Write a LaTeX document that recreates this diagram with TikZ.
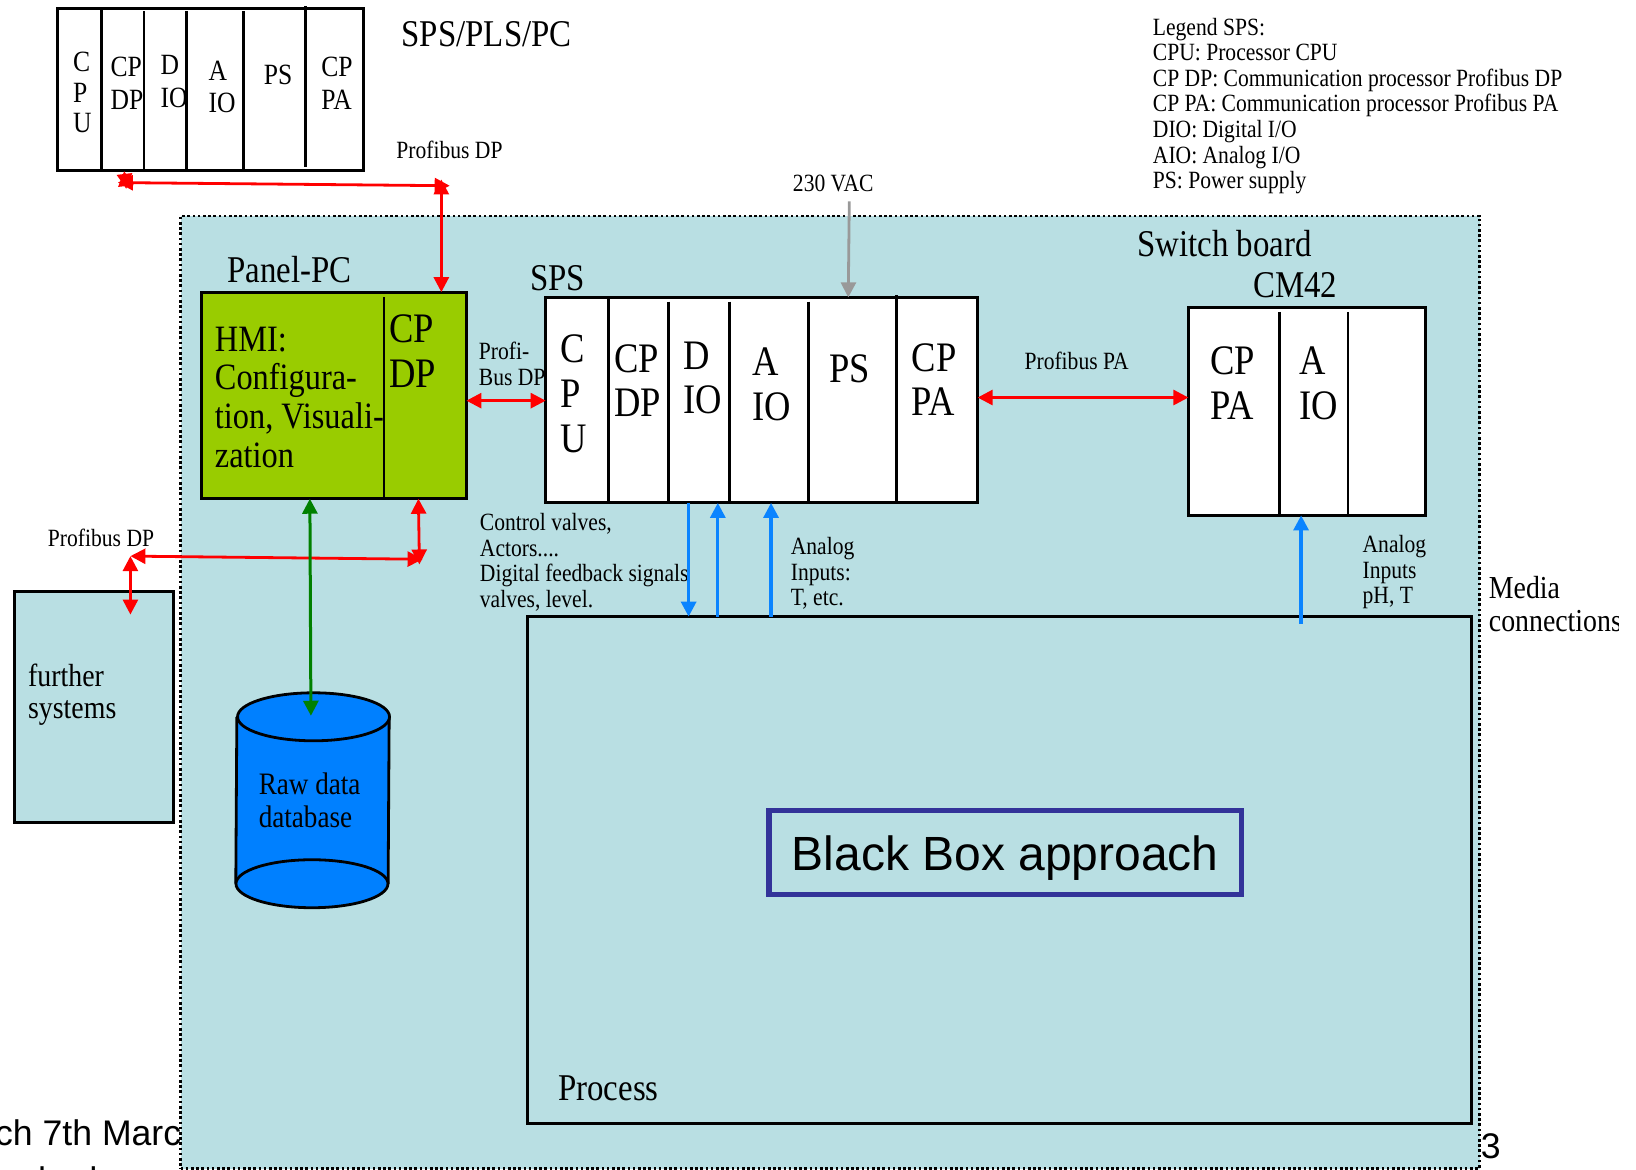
\documentclass[tikz,border=0pt]{standalone}
\usepackage{fontspec}
\setmainfont[FakeStretch=0.87]{Liberation Serif}
\newfontfamily\arialf{Liberation Sans}
\usetikzlibrary{arrows.meta,fit,shapes.geometric,calc}
\newcommand{\TL}[1]{\begin{tabular}[t]{@{}l@{}}#1\end{tabular}}
\tikzset{
  lab/.style n args={2}{anchor=base west,inner sep=0pt,outer sep=0pt,yshift=-0.9pt,font=\fontsize{#1}{#2}\selectfont},
  small/.style={lab={12.4pt}{12.8pt}},
  mid/.style={lab={18.9pt}{20pt}},
  big/.style={lab={21pt}{22.4pt}},
  rk/.style={lab={14.7pt}{16.2pt}},
  boxn/.style={draw=black,line width=1.5pt,inner sep=0pt,outer sep=0pt},
  divline/.style={draw=black,line width=1.4pt},
  redline/.style={draw=red,line width=1.4pt,{Triangle[length=7.5pt,width=7.5pt]}-{Triangle[length=7.5pt,width=7.5pt]}},
  blueline/.style={draw=bluearrow,line width=1.6pt,-{Triangle[length=7.5pt,width=7.5pt]}},
  greenline/.style={draw=darkgreen,line width=1.5pt,{Triangle[length=7.5pt,width=7.5pt]}-{Triangle[length=7.5pt,width=7.5pt]}},
  greyline/.style={draw=greyarrow,line width=1.4pt,-{Triangle[length=7.5pt,width=7.5pt]}},
}
\definecolor{board}{HTML}{B9DFE3}
\definecolor{hmigreen}{HTML}{99CC00}
\definecolor{dbblue}{HTML}{0080FF}
\definecolor{bluearrow}{HTML}{0A84FF}
\definecolor{darkgreen}{HTML}{008000}
\definecolor{greyarrow}{HTML}{999999}
\definecolor{bbblue}{HTML}{333399}
\begin{document}
\begin{tikzpicture}[x=0.5217pt,y=-0.5217pt]
\useasboundingbox (0,0) rectangle (1568,1121);
\clip (0,0) rectangle (1568,1121);
% footer text behind the board
\node[anchor=base west,inner sep=0pt,font=\arialf\fontsize{17.8pt}{20pt}\selectfont] (foot1) at (-5,1098) {ch 7th Marc};
\node[anchor=base west,inner sep=0pt,font=\arialf\fontsize{17.8pt}{20pt}\selectfont] (foot2) at (19,1143) {ched};
% switch board
\node[fit={(173,207)(1418,1120)},inner sep=0pt,outer sep=0pt,fill=board,draw=black,line width=1.3pt,dash pattern=on 1.3pt off 1.3pt] (board) {};
\node[anchor=base west,inner sep=0pt,font=\arialf\fontsize{17.8pt}{20pt}\selectfont] (pagenum) at (1419,1110) {3};
% top rack
\node[fit={(55,8)(348,163)},boxn,fill=white] (rack) {};
\draw[divline] (97,8) -- (97,163);
\draw[divline] (138,11) -- (138,163);
\draw[divline] (179,11) -- (179,163);
\draw[divline] (233,11) -- (233,163);
\draw[divline] (293,6) -- (293,160);
\node[rk] (r1) at (70,67) {\TL{C\\[-1pt]P\\[-1pt]U}};
\node[rk] (r2) at (106,72) {\TL{CP\\DP}};
\node[rk] (r3) at (154,70) {\TL{D\\IO}};
\node[rk] (r4) at (200,75) {\TL{A\\IO}};
\node[rk] (r5) at (253,79) {PS};
\node[rk] (r6) at (308,72) {\TL{CP\\PA}};
\node[mid] (title) at (385,43) {SPS/PLS/PC};
\node[small] (pdp1) at (380,150) {Profibus DP};
\node[small] (vac) at (760,182) {230 VAC};
\node[small] (legend) at (1105,32) {\TL{Legend SPS:\\CPU: Processor CPU\\CP DP: Communication processor Profibus DP\\CP PA: Communication processor Profibus PA\\DIO: Digital I/O\\AIO: Analog I/O\\PS: Power supply}};
\node[mid] (swb) at (1090,244) {Switch board};
\node[mid] (cmt) at (1201,283) {CM42};
\node[mid] (pct) at (218,269) {Panel-PC};
\node[mid] (spst) at (508,277) {SPS};
% panel PC
\node[fit={(193,280)(447,478)},boxn,fill=hmigreen] (panel) {};
\draw[divline] (368,285) -- (368,478);
\node[lab={18.6pt}{19.3pt}] (hmi) at (206,335) {\TL{HMI:\\Configura-\\tion, Visuali-\\zation}};
\node[big] (pdp) at (373,327) {\TL{CP\\DP}};
% SPS
\node[fit={(523,285)(937,482)},boxn,fill=white] (sps) {};
\draw[divline] (583,285) -- (583,482);
\draw[divline] (641,289) -- (641,482);
\draw[divline] (699,289) -- (699,482);
\draw[divline] (775,289) -- (775,482);
\draw[divline] (859,283) -- (859,480);
\node[big] (s1) at (537,346) {\TL{C\\P\\U}};
\node[big] (s2) at (589,355) {\TL{CP\\DP}};
\node[big] (s3) at (655,352) {\TL{D\\IO}};
\node[big] (s4) at (721,358) {\TL{A\\IO}};
\node[big] (s5) at (795,365) {PS};
\node[big] (s6) at (874,354) {\TL{CP\\PA}};
% CM42
\node[fit={(1139,295)(1366,494)},boxn,fill=white] (cm) {};
\draw[divline] (1226,299) -- (1226,494);
\draw[divline] (1292,299) -- (1292,494);
\node[big] (c1) at (1160,357) {\TL{CP\\PA}};
\node[big] (c2) at (1245,357) {\TL{A\\IO}};
% labels
\node[small] (pb) at (459,343) {\TL{Profi-\\Bus DP}};
\node[small] (ppa) at (982,352) {Profibus PA};
\node[small] (ctrl) at (460,507) {\TL{Control valves,\\Actors....\\Digital feedback signals\\valves, level.}};
\node[small] (ai1) at (758,530) {\TL{Analog\\Inputs:\\T, etc.}};
\node[small] (ai2) at (1306,528) {\TL{Analog\\Inputs\\pH, T}};
\begin{scope}
\clip (1400,500) rectangle (1551,640);
\node[lab={16pt}{16.2pt}] (media) at (1427,572) {\TL{Media\\connections}};
\end{scope}
\node[small] (pdp2) at (46,522) {Profibus DP};
% further systems
\node[fit={(14,567)(166,788)},boxn,fill=board] (further) {};
\node[lab={16pt}{16.2pt}] (furt) at (27,656) {\TL{further\\systems}};
% database
\fill[dbblue] (227,687) -- (225,847) arc[start angle=180,end angle=360,x radius=73,y radius=23] -- (373,687) -- cycle;
\draw[black,line width=1.4pt] (227,687) -- (226,847);
\draw[black,line width=1.4pt] (373,687) -- (372,847);
\node[ellipse,draw=black,line width=1.4pt,fill=dbblue,minimum width=76pt,minimum height=24pt,inner sep=0pt,outer sep=0pt] (dbbot) at (299,847) {};
\node[ellipse,draw=black,line width=1.4pt,fill=dbblue,minimum width=76pt,minimum height=24pt,inner sep=0pt,outer sep=0pt] (dbtop) at (300.5,687) {};
\node[lab={15.6pt}{16.2pt}] (dbt) at (248,760) {\TL{Raw data\\database}};
% process
\node[fit={(506,591)(1410,1077)},boxn] (proc) {};
\node[mid] (proct) at (535,1053) {Process};
\node[draw=bbblue,line width=2.6pt,fit={(737,777)(1190,857)},inner sep=0pt,outer sep=0pt] (bbb) {};
\node[font=\arialf\fontsize{24pt}{28pt}\selectfont,inner sep=0pt] (bbt) at (963.5,822) {Black Box approach};
% connectors
\coordinate (rackport) at (119,164);
\coordinate (rackport2) at (121,181);
\coordinate (busL) at (113,175);
\coordinate (busR) at (431,178);
\coordinate (busT) at (423,172);
\coordinate (bus2L) at (125,533);
\coordinate (bus2R) at (405,536);
\coordinate (vacin) at (814,193);
\coordinate (furtherin) at (125,589);
\coordinate (bus2Rb) at (402,541);
\coordinate (dbin) at (298,686);
\draw[redline] (rackport) -- (rackport2);
\draw[redline] (busL) -- (busR);
\draw[redline] (busT) -- (panel.north -| 423,0);
\draw[redline] (panel.east |- 0,384) -- (sps.west |- 0,384);
\draw[redline] (sps.east |- 0,381) -- (cm.west |- 0,381);
\draw[redline] (bus2L) -- (bus2R);
\draw[redline] (bus2L) -- (furtherin);
\draw[redline] (panel.south -| 401,0) -- (bus2Rb);
\draw[greenline] (panel.south -| 297,0) -- (dbin);
\draw[greyline] (vacin) -- (sps.north -| 813,0);
\draw[blueline] (sps.south -| 660,0) -- (proc.north -| 660,0);
\draw[blueline] (proc.north -| 688,0) -- (sps.south -| 688,0);
\draw[blueline] (proc.north -| 739,0) -- (sps.south -| 739,0);
\draw[blueline] ($(proc.north -| 1247,0)+(0,7)$) -- (cm.south -| 1247,0);
\end{tikzpicture}
\end{document}
